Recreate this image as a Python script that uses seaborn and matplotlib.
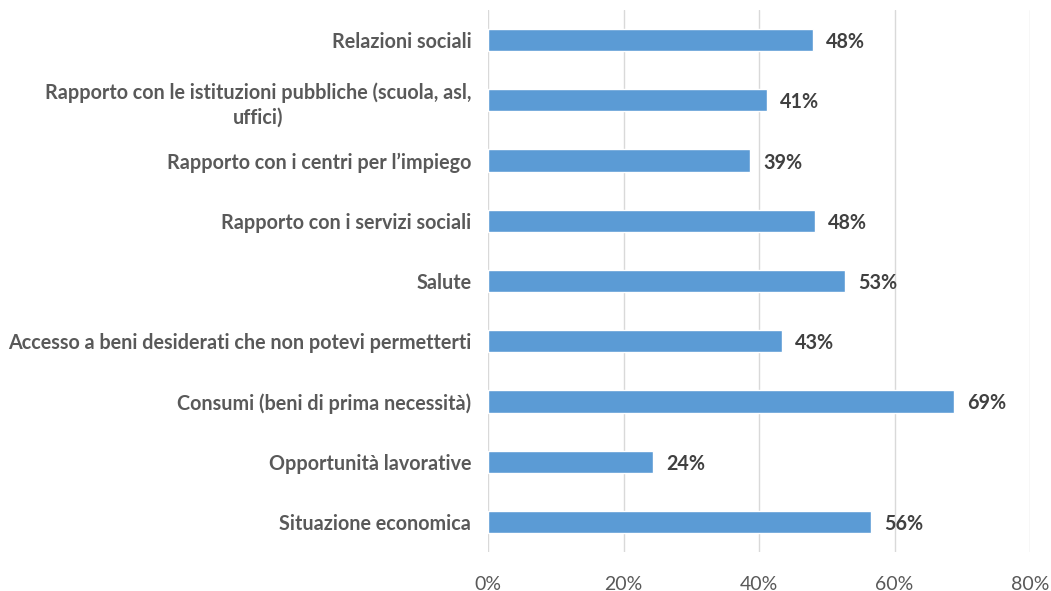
import matplotlib
matplotlib.use("Agg")
import matplotlib.pyplot as plt
import seaborn as sns
import pandas as pd

categories = [
    "Relazioni sociali",
    "Rapporto con le istituzioni pubbliche (scuola, asl,\nuffici)",
    "Rapporto con i centri per l\u2019impiego",
    "Rapporto con i servizi sociali",
    "Salute",
    "Accesso a beni desiderati che non potevi permetterti",
    "Consumi (beni di prima necessit\u00e0)",
    "Opportunit\u00e0 lavorative",
    "Situazione economica",
]
values = [48.0, 41.2, 38.7, 48.3, 52.7, 43.4, 68.8, 24.4, 56.5]
labels = ["48%", "41%", "39%", "48%", "53%", "43%", "69%", "24%", "56%"]
xticks = [0, 20, 40, 60, 80]
xticklabels = ["0%", "20%", "40%", "60%", "80%"]

sns.set_theme(style="white")
plt.rcParams['font.family'] = ['Lato', 'DejaVu Sans']

df = pd.DataFrame({"cat": categories, "val": values})

fig = plt.figure(figsize=(10.51, 5.91), dpi=100)
ax = fig.add_axes([488/1051, 1-552/591, (1030-488)/1051, (552-10)/591])

sns.barplot(data=df, x="val", y="cat", color="#5B9BD5", width=0.37,
            saturation=1, ax=ax, zorder=3)

ax.set_xlim(0, 80)
ax.set_ylim(8.5, -0.5)
ax.set_xticks(xticks)
ax.set_xticklabels(xticklabels, fontsize=14, color="#595959")
ax.tick_params(axis="x", length=0, pad=17)
ax.tick_params(axis="y", length=0, pad=12)
for t in ax.get_yticklabels():
    t.set_fontweight("bold")
    t.set_fontsize(14.2)
    t.set_color("#595959")
    t.set_multialignment("center")
    t.set_linespacing(1.3)
ax.set_xlabel("")
ax.set_ylabel("")
ax.grid(axis="x", color="#D9D9D9", linewidth=1, zorder=0)
ax.grid(axis="y", visible=False)
for s in ax.spines.values():
    s.set_visible(False)

for i, (v, lab) in enumerate(zip(values, labels)):
    ax.annotate(lab, (v, i), xytext=(13, -2), textcoords="offset pixels",
                va="center", ha="left", fontsize=14.2, fontweight="bold",
                color="#404040")

fig.savefig("out.png", dpi=100)
